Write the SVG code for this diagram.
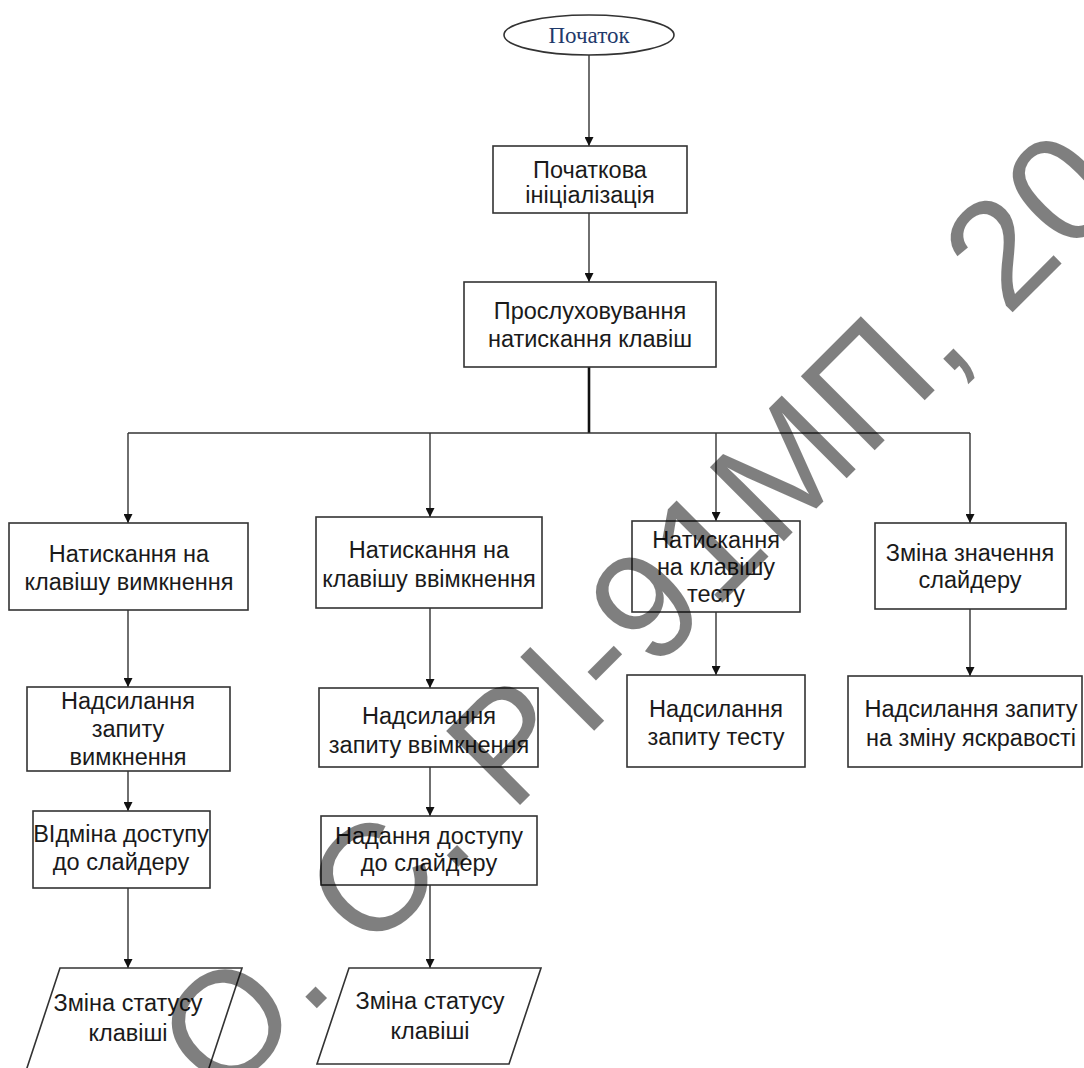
<svg xmlns="http://www.w3.org/2000/svg" width="1084" height="1068" viewBox="0 0 1084 1068">
<defs>
<marker id="arr" viewBox="0 0 10 10" refX="10" refY="5" markerWidth="9" markerHeight="9" markerUnits="userSpaceOnUse" orient="auto">
<path d="M0,0 L10,5 L0,10 z" fill="#111"/>
</marker>
<style>
.box{fill:#fff;stroke:#333;stroke-width:1.6}
.t{font-family:"Liberation Sans",Arial,sans-serif;font-size:23.5px;fill:#1a1a1a;text-anchor:middle}
.ts{font-family:"Liberation Serif","Times New Roman",serif;font-size:23px;fill:#1f3a6b;text-anchor:middle}
.c{stroke:#333;stroke-width:1.4;fill:none}
.ca{stroke:#333;stroke-width:1.4;fill:none;marker-end:url(#arr)}
.wm{font-family:"Liberation Sans",Arial,sans-serif;font-size:152px;fill:#000;fill-opacity:0.5;letter-spacing:2px}
</style>
</defs>
<rect width="1084" height="1068" fill="#fff"/>
<g id="connectors">
<line class="ca" x1="589" y1="55" x2="589" y2="146"/>
<line class="ca" x1="589" y1="213" x2="589" y2="282"/>
<line x1="589" y1="367" x2="589" y2="433" stroke="#111" stroke-width="2.6"/>
<line class="c" x1="128" y1="433" x2="970" y2="433"/>
<line class="ca" x1="128" y1="433" x2="128" y2="523"/>
<line class="ca" x1="430" y1="433" x2="430" y2="517"/>
<line class="ca" x1="716" y1="433" x2="716" y2="521"/>
<line class="ca" x1="970" y1="433" x2="970" y2="523"/>
<line class="ca" x1="128" y1="610" x2="128" y2="687"/>
<line class="ca" x1="430" y1="608" x2="430" y2="688"/>
<line class="ca" x1="716" y1="612" x2="716" y2="675"/>
<line class="ca" x1="970" y1="609" x2="970" y2="676"/>
<line class="ca" x1="128" y1="771" x2="128" y2="811"/>
<line class="ca" x1="430" y1="767" x2="430" y2="816"/>
<line class="ca" x1="128" y1="888" x2="128" y2="968"/>
<line class="ca" x1="430" y1="885" x2="430" y2="968"/>
</g>
<g id="start">
<ellipse cx="589" cy="35" rx="85" ry="20" fill="#fff" stroke="#333" stroke-width="1.6"/>
<text class="ts" x="589" y="43">Початок</text>
</g>
<g id="init">
<rect class="box" x="493" y="146" width="194" height="67"/>
<text class="t" x="590" y="178">Початкова</text>
<text class="t" x="590" y="203">ініціалізація</text>
</g>
<g id="listen">
<rect class="box" x="464" y="282" width="252" height="85"/>
<text class="t" x="590" y="319">Прослуховування</text>
<text class="t" x="590" y="347">натискання клавіш</text>
</g>
<g id="press-off">
<rect class="box" x="9" y="523" width="239" height="87"/>
<text class="t" x="129" y="562">Натискання на</text>
<text class="t" x="129" y="590">клавішу вимкнення</text>
</g>
<g id="press-on">
<rect class="box" x="316" y="517" width="226" height="91"/>
<text class="t" x="429" y="558">Натискання на</text>
<text class="t" x="429" y="587">клавішу ввімкнення</text>
</g>
<g id="press-test">
<rect class="box" x="632" y="521" width="168" height="91"/>
<text class="t" x="716" y="548">Натискання</text>
<text class="t" x="716" y="575">на клавішу</text>
<text class="t" x="716" y="602">тесту</text>
</g>
<g id="slider-change">
<rect class="box" x="875" y="523" width="191" height="86"/>
<text class="t" x="970" y="561">Зміна значення</text>
<text class="t" x="970" y="588">слайдеру</text>
</g>
<g id="send-off">
<rect class="box" x="27" y="687" width="203" height="84"/>
<text class="t" x="128" y="709">Надсилання</text>
<text class="t" x="128" y="737">запиту</text>
<text class="t" x="128" y="765">вимкнення</text>
</g>
<g id="send-on">
<rect class="box" x="319" y="688" width="219" height="79"/>
<text class="t" x="429" y="724">Надсилання</text>
<text class="t" x="429" y="753">запиту ввімкнення</text>
</g>
<g id="send-test">
<rect class="box" x="627" y="675" width="178" height="92"/>
<text class="t" x="716" y="717">Надсилання</text>
<text class="t" x="716" y="745">запиту тесту</text>
</g>
<g id="send-bright">
<rect class="box" x="848" y="676" width="234" height="91"/>
<text class="t" x="971" y="717">Надсилання запиту</text>
<text class="t" x="971" y="746">на зміну яскравості</text>
</g>
<g id="deny-slider">
<rect class="box" x="33" y="811" width="177" height="77"/>
<text class="t" x="121" y="842">ВІдміна доступу</text>
<text class="t" x="121" y="870">до слайдеру</text>
</g>
<g id="grant-slider">
<rect class="box" x="321" y="816" width="216" height="69"/>
<text class="t" x="429" y="844">Надання доступу</text>
<text class="t" x="429" y="871">до слайдеру</text>
</g>
<g id="status-off">
<polygon class="box" points="60,968 242,968 205,1080 23,1080"/>
<text class="t" x="128" y="1011">Зміна статусу</text>
<text class="t" x="128" y="1041">клавіші</text>
</g>
<g id="status-on">
<polygon class="box" points="349,968 541,968 509,1064 317,1064"/>
<text class="t" x="430" y="1009">Зміна статусу</text>
<text class="t" x="430" y="1039">клавіші</text>
</g>
<text class="wm" transform="translate(222,1103) rotate(-45)">О. С. PI-91МП, 20</text>
</svg>
